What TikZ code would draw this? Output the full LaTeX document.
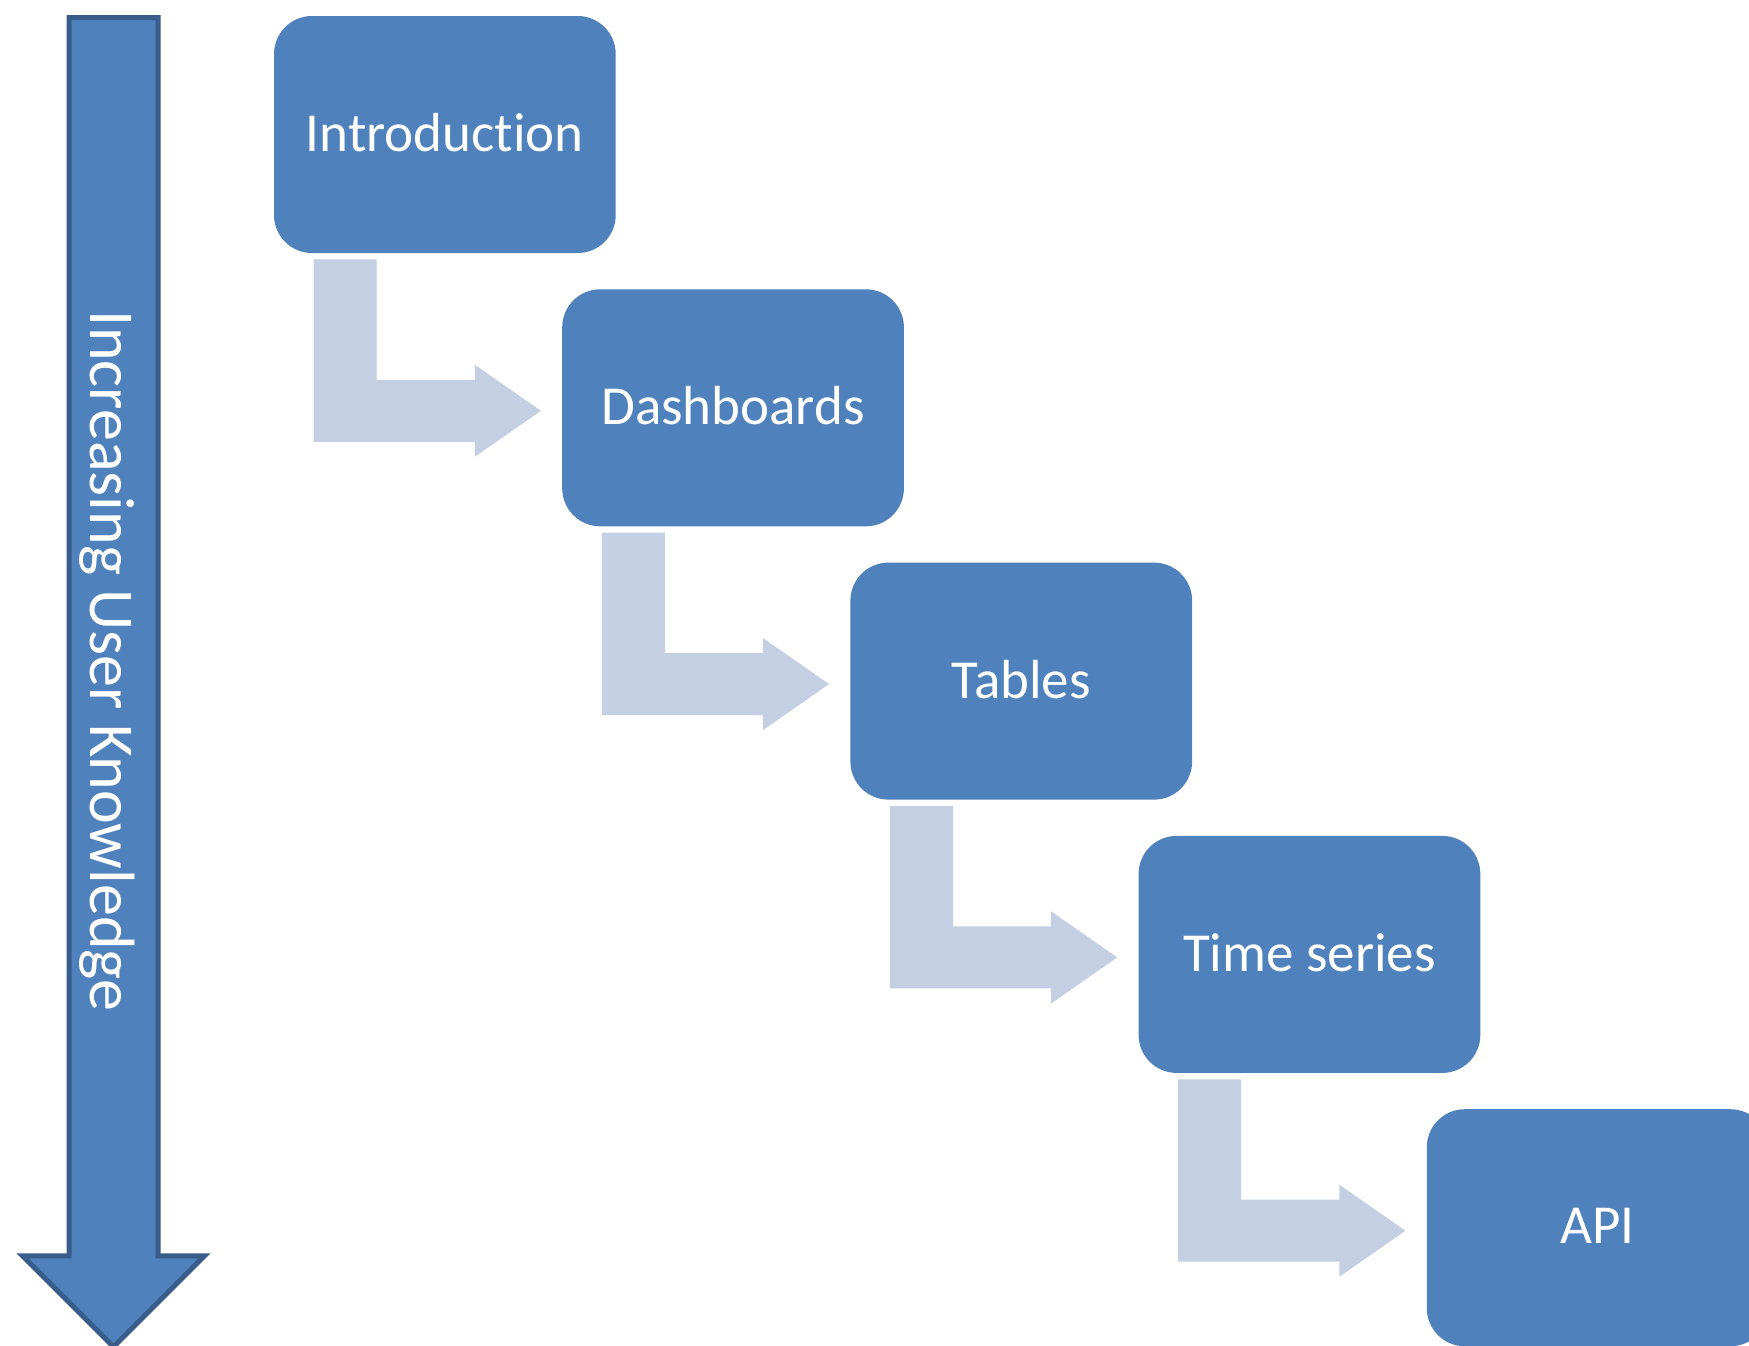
\documentclass[tikz,border=0pt]{standalone}
\usepackage{fontspec}
\setmainfont{Carlito}[Ligatures=NoCommon]
\usetikzlibrary{calc}
\definecolor{stageblue}{HTML}{4F81BD}
\definecolor{stageedge}{HTML}{385D8A}
\definecolor{flowpale}{HTML}{C4CFE3}

\begin{document}
\begin{tikzpicture}[
    x=0.5pt, y=-0.5pt,
    stage/.style={rectangle, rounded corners=19pt, fill=stageblue, inner sep=0pt,
      minimum width=170.85pt, minimum height=118.5pt, text=white, text depth=2pt,
      font=\fontsize{27.5}{32}\selectfont},
    flow/.style={fill=flowpale},
    axis/.style={fill=stageblue, draw=stageedge, line width=2.5pt, line join=miter},
    axislbl/.style={text=white, font=\fontsize{32}{38}\selectfont, rotate=-90,
      anchor=base, inner sep=0pt},
  ]
  \clip (0,0) rectangle (1749,1345);
  \fill[white] (0,0) rectangle (1749,1345);

  % ================= knowledge axis down the left edge
  \draw[axis] (69,17.5) -- (158,17.5) -- (158,1255.8) -- (204.5,1255.8)
    -- (113.5,1346.8) -- (22.5,1255.8) -- (69,1255.8) -- cycle;
  \node[axislbl] (know) at (90.7,661) {Increasing User Knowledge};

  % ================= the five stages, stepping down to the right
  \foreach \i/\name/\txt in {0/intro/Introduction, 1/dash/Dashboards,
      2/tables/Tables, 3/times/Time series, 4/api/API}
    \node[stage] (\name) at ({444.85+288.2*\i},{134.5+273.3*\i}) {\txt};

  % ================= bent arrows from each stage to the next
  \foreach \a/\b in {intro/dash, dash/tables, tables/times, times/api} {
    \coordinate (src) at ($(\a.south west)+(40,6)$);
    \coordinate (tip) at ($(\b.west)+(-21,3)$);
    \fill[flow] (src) -- ++(63,0) |- ($(tip)+(-66,-31)$) -- ++(0,-15) -- (tip)
      -- ++(-66,46) -- ++(0,-15) -| (src) -- cycle;
  }
\end{tikzpicture}
\end{document}
